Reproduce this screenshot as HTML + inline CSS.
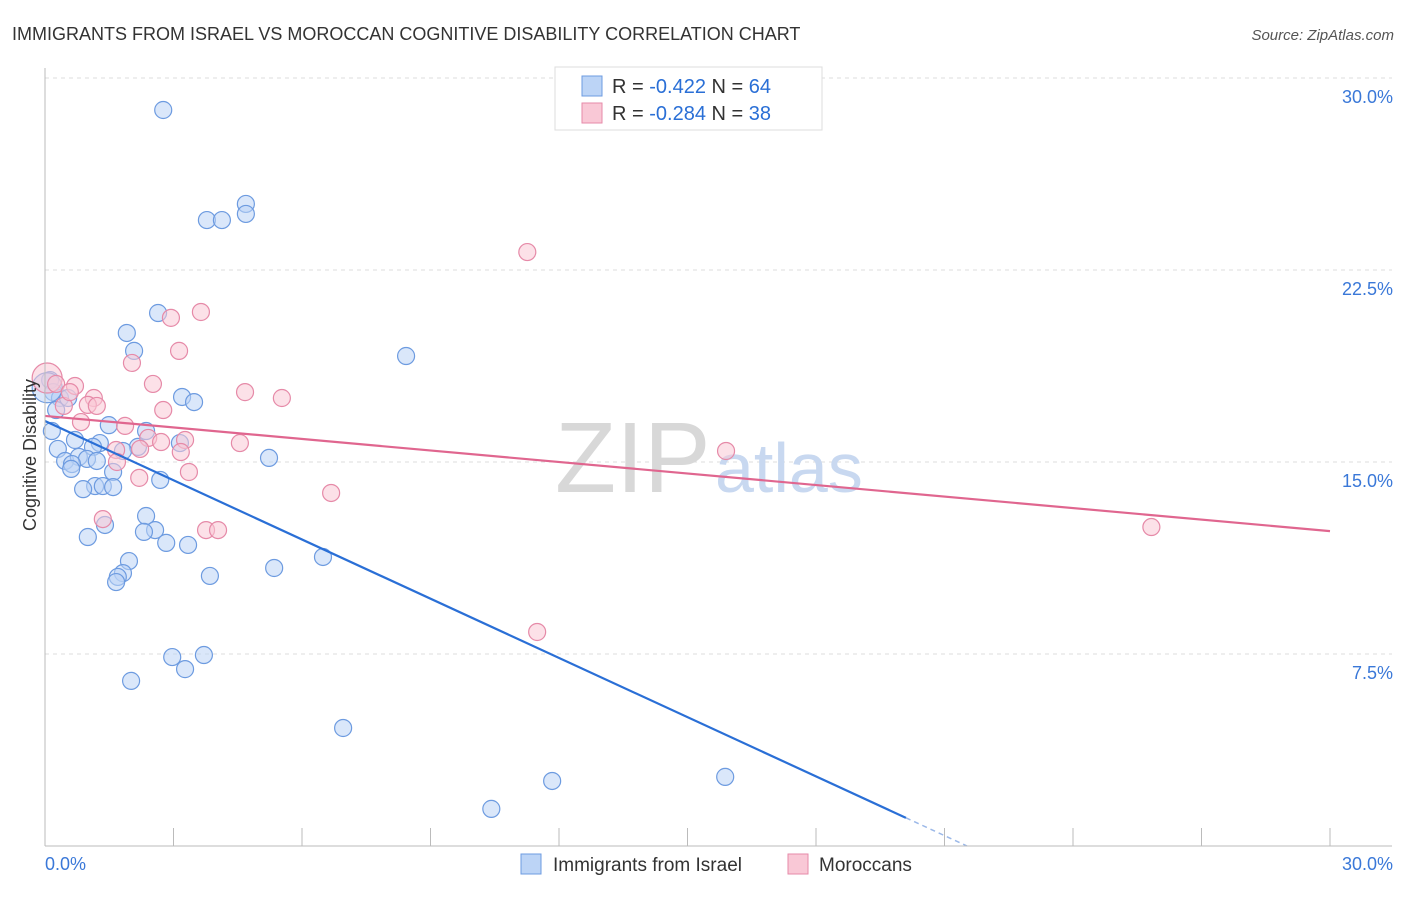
<!DOCTYPE html>
<html><head><meta charset="utf-8"><style>
body{margin:0;background:#fff;font-family:"Liberation Sans",sans-serif;}
svg text{font-family:"Liberation Sans",sans-serif;}
</style></head><body>
<svg id="chart" width="1406" height="892" xmlns="http://www.w3.org/2000/svg">
<text x="12" y="40" font-size="18" fill="#333">IMMIGRANTS FROM ISRAEL VS MOROCCAN COGNITIVE DISABILITY CORRELATION CHART</text>
<text x="1394" y="40" font-size="15" fill="#555" text-anchor="end" font-style="italic">Source: ZipAtlas.com</text>
<g id="grid"></g>
<text x="555" y="492" font-size="100" fill="#d8d8d8" font-family="Liberation Serif">ZIP</text>
<text x="715" y="492" font-size="70" fill="#c8d8f0">atlas</text>
<g id="pts"></g>
<g id="lines"></g>
<g id="axes"></g>
<text x="36" y="455" font-size="18" fill="#333" text-anchor="middle" transform="rotate(-90 36 455)">Cognitive Disability</text>
<g>
<rect x="555" y="67" width="267" height="63" fill="#fff" stroke="#ddd"/>
<rect x="582" y="76" width="20" height="20" fill="#bcd4f6" stroke="#6d9be0"/>
<rect x="582" y="103" width="20" height="20" fill="#f9c8d6" stroke="#e68aa8"/>
<text x="612" y="93" font-size="20" fill="#333">R = <tspan fill="#2a6fd6">-0.422</tspan>   N = <tspan fill="#2a6fd6">64</tspan></text>
<text x="612" y="120" font-size="20" fill="#333">R = <tspan fill="#2a6fd6">-0.284</tspan>   N = <tspan fill="#2a6fd6">38</tspan></text>
</g>
<g>
<rect x="521" y="854" width="20" height="20" fill="#bcd4f6" stroke="#6d9be0"/>
<text x="553" y="871" font-size="19" fill="#333">Immigrants from Israel</text>
<rect x="788" y="854" width="20" height="20" fill="#f9c8d6" stroke="#e68aa8"/>
<text x="819" y="871" font-size="19" fill="#333">Moroccans</text>
</g>
</svg>
<script>
const yTicks=[7.5,15,22.5,30];
const yTickLabels=["7.5%","15.0%","22.5%","30.0%"];
const xTicks=[0,3,6,9,12,15,18,21,24,27,30];
const blueX=[2.76,3.78,4.13,4.69,4.69,2.64,1.91,2.08,8.43,3.20,3.48,0.12,0.19,0.35,0.54,0.26,0.16,1.49,2.36,3.15,2.17,1.82,0.70,1.28,1.12,0.30,0.47,0.79,0.98,1.21,0.63,0.61,1.59,2.69,1.17,1.35,1.59,0.89,5.23,2.36,1.40,2.57,2.31,1.00,2.83,3.34,1.96,6.49,5.35,1.82,1.70,3.85,1.66,2.97,3.71,3.27,2.01,6.96,11.84,15.88,10.42,0.05];
const blueY=[28.75,24.45,24.45,25.08,24.69,20.82,20.04,19.34,19.14,17.54,17.34,18.2,17.73,17.5,17.5,17.03,16.21,16.44,16.21,15.74,15.59,15.43,15.86,15.74,15.59,15.51,15.04,15.2,15.12,15.04,14.92,14.73,14.61,14.3,14.06,14.06,14.02,13.94,15.16,12.89,12.54,12.34,12.27,12.07,11.84,11.76,11.13,11.29,10.86,10.66,10.51,10.55,10.31,7.38,7.46,6.91,6.45,4.61,2.54,2.70,1.45,17.9];
const pinkX=[11.26,3.64,2.94,3.13,2.03,0.05,0.70,2.52,4.67,5.53,1.14,1.00,1.21,0.44,2.76,0.84,1.87,2.41,3.27,4.55,2.71,1.66,2.22,3.17,1.68,3.36,2.20,15.90,6.68,1.35,3.76,4.04,25.83,11.49,0.26,0.58];
const pinkY=[23.2,20.86,20.63,19.34,18.87,18.28,17.97,18.05,17.73,17.5,17.5,17.23,17.19,17.19,17.03,16.56,16.41,15.94,15.86,15.74,15.78,15.47,15.51,15.39,15.0,14.61,14.38,15.43,13.79,12.77,12.34,12.34,12.46,8.36,18.05,17.73];
const blueLine=[0,16.6,20.1,1.1];
const pinkLine=[0,16.8,30,12.3];
const X0=45,X1=1330,Yb=846,Yt=78;
const sx=v=>X0+(X1-X0)*v/30, sy=v=>Yb-(Yb-Yt)*v/30;
const NS="http://www.w3.org/2000/svg";
function mk(tag,attrs,parent){const e=document.createElementNS(NS,tag);for(const k in attrs)e.setAttribute(k,attrs[k]);parent.appendChild(e);return e;}
const grid=document.getElementById('grid'),axes=document.getElementById('axes'),pts=document.getElementById('pts'),lines=document.getElementById('lines');
yTicks.forEach((t,i)=>{
 const g=mk('line',{x1:X0,x2:1392,y1:sy(t),y2:sy(t),stroke:'#ddd','stroke-dasharray':'4,4'},grid);
 
 
 const l=mk('text',{x:1393,y:sy(t)+25,'font-size':18,fill:'#3a78d8','text-anchor':'end'},axes);
 l.textContent=yTickLabels[i];
 
 
});
mk('line',{x1:X0,x2:X0,y1:68,y2:Yb,stroke:'#bbb'},axes);
mk('line',{x1:X0,x2:1392,y1:Yb,y2:Yb,stroke:'#bbb'},axes);
xTicks.forEach(t=>{
 const k=mk('line',{x1:sx(t),x2:sx(t),y1:Yb,y2:Yb-18,stroke:'#bbb'},axes);
 
 
});
const xl0=mk('text',{x:45,y:870,'font-size':18,fill:'#3a78d8'},axes);xl0.textContent='0.0%';


const xl1=mk('text',{x:1393,y:870,'font-size':18,fill:'#3a78d8','text-anchor':'end'},axes);xl1.textContent='30.0%';


function drawPts(xs,ys,fill,stroke,name){
 xs.forEach((x,i)=>{
  const big=x<0.1;
  const c=mk('circle',{cx:sx(x),cy:sy(ys[i]),r:big?15:8.5,fill:fill,'fill-opacity':0.55,stroke:stroke,'stroke-width':1.2},pts);
  
  
 });
}
drawPts(blueX,blueY,'#bcd4f6','#6d9be0','israel-point');
drawPts(pinkX,pinkY,'#f9c8d6','#e68aa8','moroccan-point');
const bl=mk('line',{x1:sx(blueLine[0]),y1:sy(blueLine[1]),x2:sx(blueLine[2]),y2:sy(blueLine[3]),stroke:'#2a6fd6','stroke-width':2.2},lines);


const slope=(blueLine[3]-blueLine[1])/(blueLine[2]-blueLine[0]);
const xEnd=blueLine[2]+(0-blueLine[3])/slope;
const bd=mk('line',{x1:sx(blueLine[2]),y1:sy(blueLine[3]),x2:sx(xEnd),y2:sy(0),stroke:'#9bb8e8','stroke-width':1.5,'stroke-dasharray':'5,4'},lines);


const pl=mk('line',{x1:sx(pinkLine[0]),y1:sy(pinkLine[1]),x2:sx(pinkLine[2]),y2:sy(pinkLine[3]),stroke:'#e0668f','stroke-width':2.2},lines);


</script>
</body></html>
